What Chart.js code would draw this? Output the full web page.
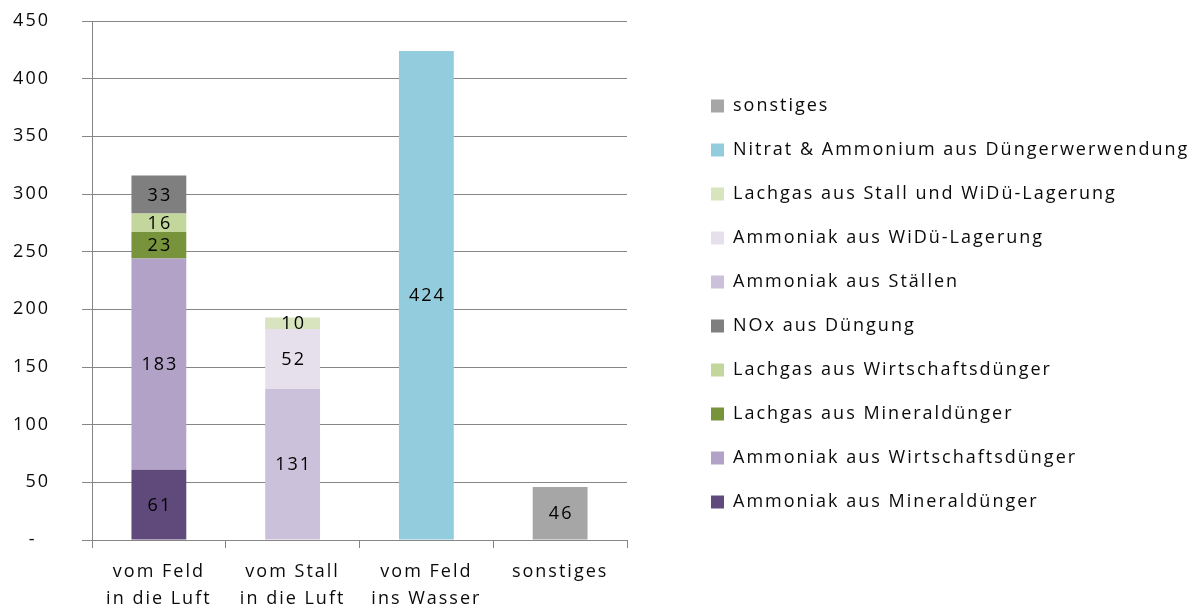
<!DOCTYPE html>
<html>
<head>
<meta charset="utf-8">
<script src="https://cdn.jsdelivr.net/npm/chart.js@4.4.0/dist/chart.umd.min.js"></script>
<style>
  html, body { margin: 0; padding: 0; background: #fff; }
</style>
</head>
<body>
<canvas id="nChart" width="1198" height="613"></canvas>
<script>
'use strict';

// categories on the x axis (two-line labels)
let categories = [['vom Feld', 'in die Luft'], ['vom Stall', 'in die Luft'], ['vom Feld', 'ins Wasser'], 'sonstiges'];

// series values, one per category (null where a series has no bar)
let ammoniakMineral = [61, null, null, null];
let ammoniakWirtschaft = [183, null, null, null];
let lachgasMineral = [23, null, null, null];
let lachgasWirtschaft = [16, null, null, null];
let noxDuengung = [33, null, null, null];
let ammoniakStaelle = [null, 131, null, null];
let ammoniakLagerung = [null, 52, null, null];
let lachgasStall = [null, 10, null, null];
let nitratAmmonium = [null, null, 424, null];
let sonstiges = [null, null, null, 46];

let seriesNames = [
  'Ammoniak aus Mineraldünger',
  'Ammoniak aus Wirtschaftsdünger',
  'Lachgas aus Mineraldünger',
  'Lachgas aus Wirtschaftsdünger',
  'NOx aus Düngung',
  'Ammoniak aus Ställen',
  'Ammoniak aus WiDü-Lagerung',
  'Lachgas aus Stall und WiDü-Lagerung',
  'Nitrat & Ammonium aus Düngerwerwendung',
  'sonstiges'
];
let seriesValues = [ammoniakMineral, ammoniakWirtschaft, lachgasMineral, lachgasWirtschaft, noxDuengung,
  ammoniakStaelle, ammoniakLagerung, lachgasStall, nitratAmmonium, sonstiges];
let seriesColors = ['#604a7b', '#b3a2c7', '#77933c', '#c3d69b', '#7f7f7f',
  '#ccc1da', '#e6e0ec', '#d7e4bd', '#93cddd', '#a6a6a6'];

// y axis ticks
let yMin = 0;
let yMax = 450;
let yStep = 50;

let fontFamily = '"Open Sans", sans-serif';
let fontSize = 18;
let textColor = '#0a0a0a';
let lineColor = '#868686';
let textSpacing = '2px';

Chart.defaults.font.family = fontFamily;
Chart.defaults.font.size = fontSize;
Chart.defaults.color = textColor;

let datasets = [];
for (let i = 0; i < seriesNames.length; i++) {
  datasets.push({
    label: seriesNames[i],
    data: seriesValues[i],
    backgroundColor: seriesColors[i],
    borderWidth: 0,
    barPercentage: 0.41,
    categoryPercentage: 1.0
  });
}

// wider letters, the original text is a bit stretched
let spacingPlugin = {
  id: 'spacing',
  beforeUpdate(chart) { chart.ctx.letterSpacing = textSpacing; },
  beforeDraw(chart) { chart.ctx.letterSpacing = textSpacing; }
};

// keep a gap between the plot and the legend
let legendGapPlugin = {
  id: 'legendGap',
  afterInit(chart) {
    let legend = chart.legend;
    let fit = legend.fit;
    legend.fit = function () {
      fit.call(this);
      this.width = 1198 - 627;
    };
  },
  afterLayout(chart) {
    chart.legend.left = 685;
    chart.legend.top = 71;
  }
};

// numbers in the middle of each bar piece
let valueLabelPlugin = {
  id: 'valueLabels',
  afterDatasetsDraw(chart) {
    let ctx = chart.ctx;
    ctx.save();
    ctx.font = fontSize + 'px ' + fontFamily;
    ctx.fillStyle = '#000000';
    ctx.textAlign = 'center';
    ctx.textBaseline = 'middle';
    chart.data.datasets.forEach((ds, i) => {
      chart.getDatasetMeta(i).data.forEach((bar, j) => {
        if (ds.data[j] === null) return;
        ctx.fillText(String(ds.data[j]), bar.x + 1, (bar.y + bar.base) / 2 + 1);
      });
    });
    ctx.restore();
  }
};

let chart = new Chart(document.getElementById('nChart'), {
  type: 'bar',
  data: {
    labels: categories,
    datasets: datasets
  },
  options: {
    responsive: false,
    animation: false,
    layout: { padding: { top: 21, right: 0, bottom: 0, left: 0 } },
    plugins: {
      tooltip: { enabled: false },
      legend: {
        position: 'right',
        align: 'start',
        reverse: true,
        labels: {
          boxWidth: 13,
          boxHeight: 13,
          padding: 26,
          color: textColor,
          font: { size: fontSize }
        }
      }
    },
    scales: {
      x: {
        stacked: true,
        grid: { drawOnChartArea: false, drawTicks: true, tickLength: 8, color: lineColor, offset: true },
        border: { color: lineColor },
        ticks: { color: textColor, padding: 10, font: { size: fontSize, lineHeight: '27px' } },
        afterFit(scale) { scale.height = 73; }
      },
      y: {
        stacked: true,
        min: yMin,
        max: yMax,
        grid: { color: lineColor, tickLength: 10 },
        border: { color: lineColor },
        ticks: {
          stepSize: yStep,
          padding: 32,
          color: textColor,
          callback: (v) => (v === 0 ? '-  ' : String(v))
        },
        afterFit(scale) {
          scale.width = 92;
          scale.paddingTop = 0;
          scale.paddingBottom = 0;
        }
      }
    }
  },
  plugins: [spacingPlugin, legendGapPlugin, valueLabelPlugin]
});
</script>
</body>
</html>
